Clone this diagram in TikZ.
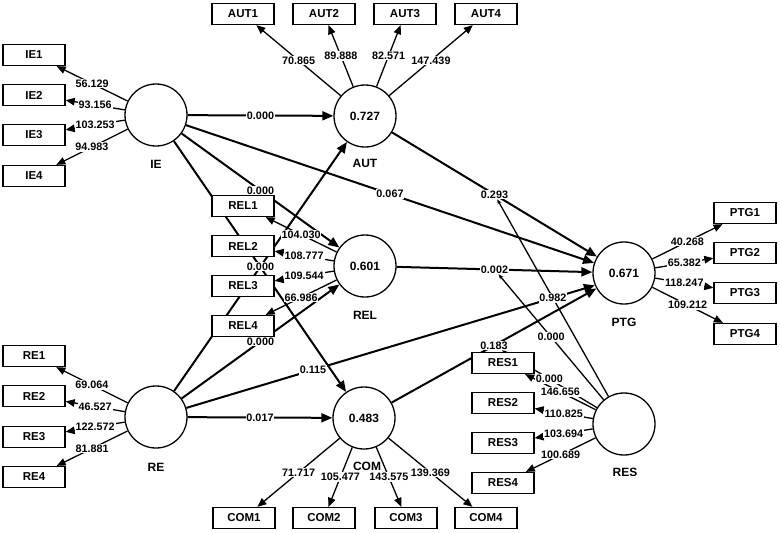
\documentclass[tikz,border=0pt]{standalone}
\usepackage{fontspec}
\setmainfont{Liberation Sans}
\usetikzlibrary{arrows.meta}
\pgfdeclarelayer{bgfill}
\pgfdeclarelayer{lines}
\pgfdeclarelayer{labels}
\pgfsetlayers{bgfill,lines,labels,main}
% #1 style, #2 from, #3 to, #4 pos, #5 text, #6 label name
\newcommand{\mylink}[6]{%
  \begin{pgfonlayer}{lines}\draw[#1] (#2) -- coordinate[pos=#4] (c#6) (#3);\end{pgfonlayer}%
  \begin{pgfonlayer}{labels}\node[lbl] (#6) at (c#6) {#5};\end{pgfonlayer}}
\tikzset{
  lat/.style={circle,draw,line width=1.3pt,minimum size=62pt,inner sep=0pt,fill=white,font=\fontsize{12}{14}\selectfont\bfseries},
  ind/.style={rectangle,draw,line width=1.3pt,minimum width=62pt,minimum height=21pt,inner sep=0pt,fill=white,font=\fontsize{11.5}{13}\selectfont\bfseries},
  lname/.style={inner sep=0pt,font=\fontsize{12}{14}\selectfont\bfseries},
  struct/.style={line width=2pt,-{Triangle[length=11pt,width=9pt]}},
  load/.style={line width=1.3pt,-{Triangle[length=9pt,width=7.5pt]}},
  modr/.style={line width=1.3pt,-{Stealth[length=5pt,width=4pt]}},
  lbl/.style={fill=white,inner sep=0.8pt,font=\fontsize{10.8}{12}\selectfont\bfseries},
}
\begin{document}
\begin{tikzpicture}[x=1pt,y=-1pt]
\begin{pgfonlayer}{bgfill}
\fill[white] (0,0) rectangle (780,533);
\end{pgfonlayer}
\useasboundingbox (0,0) rectangle (780,533);
% latent variables
\node[lat] (IE)  at (156,115) {};
\node[lat] (AUT) at (365,116) {0.727};
\node[lat] (REL) at (365,266) {0.601};
\node[lat] (PTG) at (624,273) {0.671};
\node[lat] (RE)  at (156,417) {};
\node[lat] (COM) at (364,418) {0.483};
\node[lat] (RES) at (624,424) {};
\node[lname] (nIE)  at (156,164) {IE};
\node[lname] (nAUT) at (365,163) {AUT};
\node[lname] (nREL) at (365,315) {REL};
\node[lname] (nPTG) at (624,322) {PTG};
\node[lname] (nRE)  at (156,467) {RE};
\node[lname] (nCOM) at (367,466) {COM};
\node[lname] (nRES) at (625,472) {RES};
% indicators
\foreach \i/\y in {1/55,2/95,3/135,4/176} \node[ind] (IE\i) at (34,\y) {IE\i};
\foreach \i/\y in {1/356,2/396,3/437,4/477} \node[ind] (RE\i) at (34,\y) {RE\i};
\foreach \i/\x in {1/243,2/324,3/405,4/486} \node[ind] (AUT\i) at (\x,14) {AUT\i};
\foreach \i/\x in {1/244,2/324,3/406,4/486} \node[ind] (COM\i) at (\x,518) {COM\i};
\foreach \i/\y in {1/206,2/246,3/286,4/326} \node[ind] (REL\i) at (243,\y) {REL\i};
\foreach \i/\y in {1/213,2/253,3/293,4/334} \node[ind] (PTG\i) at (745,\y) {PTG\i};
\foreach \i/\y in {1/363,2/403,3/443,4/483} \node[ind] (RES\i) at (503,\y) {RES\i};
% loadings
\mylink{load}{IE}{IE1}{.5}{56.129}{lIEa}
\mylink{load}{IE}{IE2}{.5}{93.156}{lIEb}
\mylink{load}{IE}{IE3}{.5}{103.253}{lIEc}
\mylink{load}{IE}{IE4}{.5}{94.983}{lIEd}
\mylink{load}{RE}{RE1}{.5}{69.064}{lREa}
\mylink{load}{RE}{RE2}{.5}{46.527}{lREb}
\mylink{load}{RE}{RE3}{.5}{122.572}{lREc}
\mylink{load}{RE}{RE4}{.5}{81.881}{lREd}
\mylink{load}{AUT}{AUT1}{.5}{70.865}{lAUTa}
\mylink{load}{AUT}{AUT2}{.5}{89.888}{lAUTb}
\mylink{load}{AUT}{AUT3}{.5}{82.571}{lAUTc}
\mylink{load}{AUT}{AUT4}{.5}{147.439}{lAUTd}
\mylink{load}{COM}{COM1}{.5}{71.717}{lCOMa}
\mylink{load}{COM}{COM2}{.5}{105.477}{lCOMb}
\mylink{load}{COM}{COM3}{.5}{143.575}{lCOMc}
\mylink{load}{COM}{COM4}{.5}{139.369}{lCOMd}
\mylink{load}{REL}{REL1}{.5}{104.030}{lRELa}
\mylink{load}{REL}{REL2}{.5}{108.777}{lRELb}
\mylink{load}{REL}{REL3}{.5}{109.544}{lRELc}
\mylink{load}{REL}{REL4}{.5}{66.986}{lRELd}
\mylink{load}{PTG}{PTG1}{.5}{40.268}{lPTGa}
\mylink{load}{PTG}{PTG2}{.5}{65.382}{lPTGb}
\mylink{load}{PTG}{PTG3}{.5}{118.247}{lPTGc}
\mylink{load}{PTG}{PTG4}{.5}{109.212}{lPTGd}
\mylink{load}{RES}{RES1}{.5}{146.656}{lRESa}
\mylink{load}{RES}{RES2}{.5}{110.825}{lRESb}
\mylink{load}{RES}{RES3}{.5}{103.694}{lRESc}
\mylink{load}{RES}{RES4}{.5}{100.689}{lRESd}
% structural paths
\mylink{struct}{IE}{AUT}{.5}{0.000}{pIEAUT}
\mylink{struct}{IE}{PTG}{.5}{0.067}{pIEPTG}
\mylink{struct}{IE}{REL}{.5}{0.000}{pIEREL}
\mylink{struct}{IE}{COM}{.5}{0.000}{pIECOM}
\mylink{struct}{RE}{AUT}{.5}{0.000}{pREAUT}
\mylink{struct}{RE}{REL}{.5}{0.000}{pREREL}
\mylink{struct}{RE}{PTG.203}{.31}{0.115}{pREPTG}
\mylink{struct}{RE}{COM}{.5}{0.017}{pRECOM}
\mylink{struct}{AUT}{PTG}{.5}{0.293}{pAUTPTG}
\mylink{struct}{REL}{PTG}{.5}{0.002}{pRELPTG}
\mylink{struct}{COM}{PTG}{.5}{0.183}{pCOMPTG}
% moderating effects of RES
\mylink{modr}{RES}{pAUTPTG}{.5}{0.982}{mA}
\mylink{modr}{RES}{pRELPTG}{.5}{0.000}{mB}
\mylink{modr}{RES}{pCOMPTG}{.5}{0.000}{mC}
\end{tikzpicture}
\end{document}
